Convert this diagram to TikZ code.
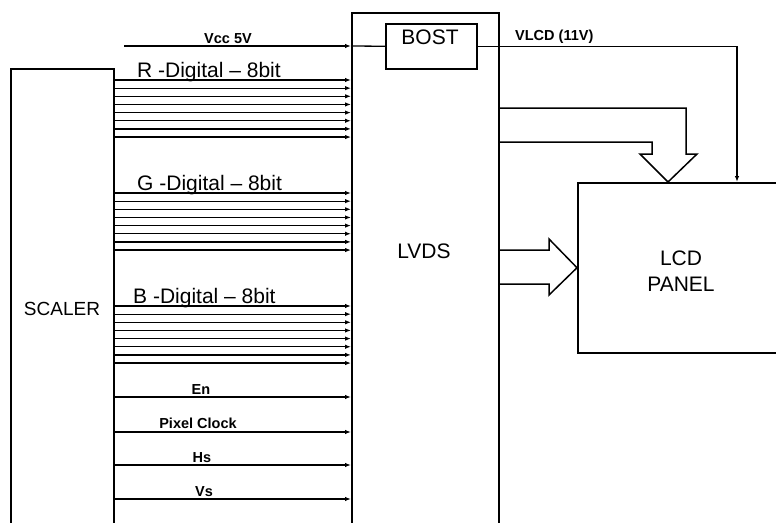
\documentclass[tikz,border=0pt]{standalone}
\usepackage{fontspec}
\setmainfont{Liberation Sans}
\usetikzlibrary{arrows.meta,positioning}
\tikzset{
  blk/.style={draw,line width=1.5pt,inner sep=0pt},
  big/.style={font=\fontsize{21}{25}\selectfont,inner sep=0pt},
  sml/.style={font=\fontsize{14.5}{17}\selectfont\bfseries,inner sep=0pt},
  sarr/.style={-{Latex[length=6pt,width=4.5pt]},line width=1.3pt},
  barr/.style={line width=1.5pt,line join=miter},
}
\begin{document}
\begin{tikzpicture}[x=1pt,y=-1pt]
  \useasboundingbox (0,0) rectangle (776,522);
  \clip (0,0) rectangle (776,522);
  % blocks
  \node[blk,anchor=north west,minimum width=103pt,minimum height=480pt] (scaler) at (10,68) {};
  \node[blk,anchor=north west,minimum width=147pt,minimum height=530pt] (lvds) at (351,12) {};
  \node[blk,anchor=north west,minimum width=91pt,minimum height=45pt,fill=white] (bost) at (385,23) {};
  \node[blk,anchor=north west,minimum width=220pt,minimum height=170pt] (lcd) at (577,182) {};
  \node[big,font=\fontsize{19}{23}\selectfont,anchor=base] (scalerTxt) at (62,315) {SCALER};
  \node[big,anchor=base] (lvdsTxt) at (424,258) {LVDS};
  \node[big,anchor=base] (bostTxt) at (430,44) {BOST};
  \node[big,align=center,anchor=base] (lcdTxt) at (681,291) {LCD\\[1pt]PANEL};
  % supply
  \coordinate (vccIn) at (124,46);
  \draw[sarr] (vccIn) -- (lvds.west |- vccIn);
  \draw[line width=1.3pt] (lvds.west |- vccIn) -- (bost.west);
  \node[sml,anchor=base] (vccLbl) at (228,43) {Vcc 5V};
  \draw[sarr] (bost.east) -| ([xshift=160pt]lcd.north west);
  \node[sml,anchor=base west] (vlcdLbl) at (515,40) {VLCD (11V)};
  % RGB buses
  \foreach \s in {80,193,306}
    \foreach \i in {0,...,7}
      \draw[sarr] (scaler.east |- 0,\s+8.15*\i) -- (lvds.west |- 0,\s+8.15*\i);
  \node[big,anchor=base west] (rLbl) at (137,77) {R -Digital – 8bit};
  \node[big,anchor=base west] (gLbl) at (137,190) {G -Digital – 8bit};
  \node[big,anchor=base west] (bLbl) at (133,303) {B -Digital – 8bit};
  % control lines
  \foreach \y/\t/\c/\b in {397/En/201/394, 432/Pixel Clock/198/428, 465/Hs/202/462, 499/Vs/204/496}{
    \draw[sarr] (scaler.east |- 0,\y) -- (lvds.west |- 0,\y);
    \node[sml,anchor=base] (ctl\y) at (\c,\b) {\t};
  }
  % block arrows to panel
  \draw[barr] (lvds.east |- 0,108) -- (686,108) -- (686,154) -- (697,154)
    -- ([xshift=91pt]lcd.north west) -- (640,154) -- (652,154) -- (652,142)
    -- (lvds.east |- 0,142);
  \draw[barr] (lvds.east |- 0,250) -- (549,250) -- (549,239) -- (lcd.west)
    -- (549,295) -- (549,284) -- (lvds.east |- 0,284);
\end{tikzpicture}
\end{document}
